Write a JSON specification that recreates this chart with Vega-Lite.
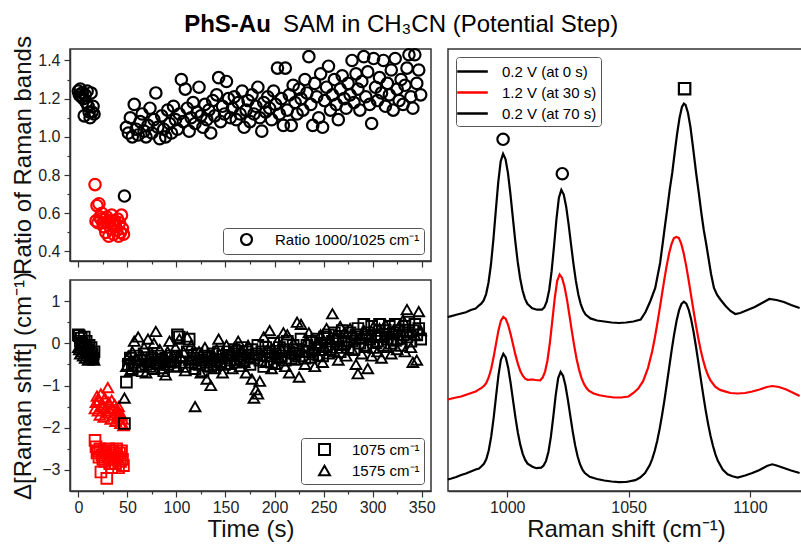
{
  "$schema": "https://vega.github.io/schema/vega-lite/v6.json",
  "padding": {"left": 10, "top": 12, "right": 0, "bottom": 0},
  "title": {
    "text": "PhS-Au",
    "anchor": "middle",
    "font": "Liberation Sans",
    "fontSize": 24,
    "fontWeight": "bold",
    "color": "black",
    "dx": -180,
    "offset": -24
  },
  "config": {
    "font": "Liberation Sans",
    "view": {"stroke": "#333333", "strokeWidth": 1.5},
    "axis": {
      "domainColor": "#333333", "domainWidth": 1.5,
      "tickColor": "#333333", "tickWidth": 1.2,
      "labelFontSize": 16, "labelColor": "#222222", "labelPadding": 4,
      "titleFontSize": 24, "titleFontWeight": "normal", "titleColor": "#111111",
      "grid": false, "labelOverlap": false, "labelFlush": false
    }
  },
  "datasets": {
    "ts": [
      {"t":0,"r":1.24,"s":0.20,"a":-0.10,"p":"b"},
      {"t":1,"r":1.22,"s":0.18,"a":-0.15,"p":"b"},
      {"t":2,"r":1.25,"s":0.05,"a":-0.25,"p":"b"},
      {"t":3,"r":1.21,"s":0.12,"a":-0.05,"p":"b"},
      {"t":4,"r":1.23,"s":0.00,"a":-0.20,"p":"b"},
      {"t":5,"r":1.20,"s":-0.05,"a":-0.30,"p":"b"},
      {"t":6,"r":1.11,"s":0.15,"a":-0.15,"p":"b"},
      {"t":7,"r":1.22,"s":-0.10,"a":-0.35,"p":"b"},
      {"t":8,"r":1.18,"s":0.05,"a":-0.10,"p":"b"},
      {"t":9,"r":1.24,"s":-0.20,"a":-0.25,"p":"b"},
      {"t":10,"r":1.16,"s":-0.15,"a":-0.40,"p":"b"},
      {"t":11,"r":1.13,"s":-0.05,"a":-0.20,"p":"b"},
      {"t":12,"r":1.10,"s":-0.30,"a":-0.30,"p":"b"},
      {"t":13,"r":1.23,"s":-0.10,"a":-0.15,"p":"b"},
      {"t":14,"r":1.13,"s":-0.25,"a":-0.35,"p":"b"},
      {"t":15,"r":1.16,"s":-0.35,"a":-0.25,"p":"b"},
      {"t":16,"r":1.12,"s":-0.20,"a":-0.40,"p":"b"},
      {"t":17,"r":0.75,"s":-2.30,"a":-1.55,"p":"r"},
      {"t":18,"r":0.56,"s":-2.45,"a":-1.40,"p":"r"},
      {"t":19,"r":0.64,"s":-2.60,"a":-1.25,"p":"r"},
      {"t":20,"r":0.55,"s":-2.55,"a":-1.60,"p":"r"},
      {"t":21,"r":0.65,"s":-2.70,"a":-1.35,"p":"r"},
      {"t":22,"r":0.58,"s":-2.50,"a":-1.70,"p":"r"},
      {"t":23,"r":0.57,"s":-3.05,"a":-1.20,"p":"r"},
      {"t":24,"r":0.60,"s":-2.65,"a":-1.50,"p":"r"},
      {"t":25,"r":0.55,"s":-2.75,"a":-1.45,"p":"r"},
      {"t":26,"r":0.53,"s":-2.55,"a":-1.75,"p":"r"},
      {"t":27,"r":0.57,"s":-2.80,"a":-1.30,"p":"r"},
      {"t":28,"r":0.50,"s":-2.60,"a":-1.55,"p":"r"},
      {"t":29,"r":0.58,"s":-3.20,"a":-1.65,"p":"r"},
      {"t":30,"r":0.55,"s":-2.70,"a":-1.05,"p":"r"},
      {"t":31,"r":0.48,"s":-2.50,"a":-1.40,"p":"r"},
      {"t":32,"r":0.56,"s":-2.85,"a":-1.60,"p":"r"},
      {"t":33,"r":0.52,"s":-2.65,"a":-1.80,"p":"r"},
      {"t":34,"r":0.59,"s":-2.95,"a":-1.35,"p":"r"},
      {"t":35,"r":0.54,"s":-2.55,"a":-1.55,"p":"r"},
      {"t":36,"r":0.49,"s":-2.75,"a":-1.70,"p":"r"},
      {"t":37,"r":0.56,"s":-2.60,"a":-1.45,"p":"r"},
      {"t":38,"r":0.53,"s":-2.85,"a":-1.85,"p":"r"},
      {"t":39,"r":0.51,"s":-2.50,"a":-1.60,"p":"r"},
      {"t":40,"r":0.57,"s":-2.70,"a":-1.75,"p":"r"},
      {"t":41,"r":0.48,"s":-2.95,"a":-1.50,"p":"r"},
      {"t":42,"r":0.55,"s":-2.60,"a":-1.65,"p":"r"},
      {"t":43,"r":0.50,"s":-2.80,"a":-1.90,"p":"r"},
      {"t":44,"r":0.59,"s":-2.55,"a":-1.70,"p":"r"},
      {"t":45,"r":0.52,"s":-2.75,"a":-1.80,"p":"r"},
      {"t":46,"r":0.49,"s":-2.90,"a":-1.95,"p":"r"},
      {"t":47,"r":0.69,"s":-1.90,"a":-1.30,"p":"b"},
      {"t":49,"r":1.05,"s":-0.92,"a":-0.55,"p":"b"},
      {"t":51,"r":1.02,"s":-0.50,"a":-0.30,"p":"b"},
      {"t":53,"r":1.10,"s":-0.35,"a":-0.65,"p":"b"},
      {"t":55,"r":1.00,"s":-0.60,"a":-0.20,"p":"b"},
      {"t":57,"r":1.17,"s":-0.45,"a":0.05,"p":"b"},
      {"t":59,"r":1.04,"s":-0.30,"a":-0.40,"p":"b"},
      {"t":61,"r":1.01,"s":-0.55,"a":0.15,"p":"b"},
      {"t":63,"r":1.08,"s":-0.40,"a":-0.55,"p":"b"},
      {"t":65,"r":1.12,"s":-0.65,"a":-0.30,"p":"b"},
      {"t":67,"r":1.03,"s":-0.25,"a":-0.10,"p":"b"},
      {"t":69,"r":1.00,"s":-0.50,"a":-0.70,"p":"b"},
      {"t":71,"r":1.06,"s":-0.40,"a":0.10,"p":"b"},
      {"t":73,"r":1.15,"s":-0.55,"a":-0.45,"p":"b"},
      {"t":75,"r":1.02,"s":-0.35,"a":-0.25,"p":"b"},
      {"t":77,"r":1.09,"s":-0.60,"a":0.00,"p":"b"},
      {"t":79,"r":1.23,"s":-0.45,"a":0.28,"p":"b"},
      {"t":81,"r":1.05,"s":-0.30,"a":-0.50,"p":"b"},
      {"t":83,"r":0.99,"s":-0.50,"a":-0.15,"p":"b"},
      {"t":85,"r":1.11,"s":-0.40,"a":-0.60,"p":"b"},
      {"t":87,"r":1.04,"s":-0.65,"a":-0.35,"p":"b"},
      {"t":89,"r":1.00,"s":-0.35,"a":-0.75,"p":"b"},
      {"t":91,"r":1.14,"s":-0.50,"a":-0.20,"p":"b"},
      {"t":93,"r":1.07,"s":-0.45,"a":0.05,"p":"b"},
      {"t":95,"r":1.02,"s":-0.30,"a":-0.45,"p":"b"},
      {"t":97,"r":1.16,"s":-0.55,"a":-0.30,"p":"b"},
      {"t":99,"r":1.09,"s":-0.40,"a":-0.10,"p":"b"},
      {"t":101,"r":1.04,"s":0.20,"a":-0.55,"p":"b"},
      {"t":103,"r":1.12,"s":0.15,"a":0.10,"p":"b"},
      {"t":105,"r":1.30,"s":-0.45,"a":-0.35,"p":"b"},
      {"t":107,"r":1.08,"s":-0.30,"a":-0.20,"p":"b"},
      {"t":109,"r":1.25,"s":-0.55,"a":-0.65,"p":"b"},
      {"t":111,"r":1.15,"s":-0.20,"a":0.15,"p":"b"},
      {"t":113,"r":1.03,"s":0.10,"a":-0.40,"p":"b"},
      {"t":115,"r":1.10,"s":-0.45,"a":-0.05,"p":"b"},
      {"t":117,"r":1.18,"s":-0.35,"a":-0.30,"p":"b"},
      {"t":119,"r":1.07,"s":-0.60,"a":-1.50,"p":"b"},
      {"t":121,"r":1.13,"s":-0.25,"a":-0.50,"p":"b"},
      {"t":123,"r":1.26,"s":-0.50,"a":-0.20,"p":"b"},
      {"t":125,"r":1.11,"s":-0.40,"a":-0.70,"p":"b"},
      {"t":127,"r":1.05,"s":-0.65,"a":-0.35,"p":"b"},
      {"t":129,"r":1.17,"s":-0.30,"a":-0.10,"p":"b"},
      {"t":131,"r":1.09,"s":-0.45,"a":-0.85,"p":"b"},
      {"t":133,"r":1.14,"s":-0.35,"a":-0.55,"p":"b"},
      {"t":135,"r":1.02,"s":-0.55,"a":-1.00,"p":"b"},
      {"t":137,"r":1.19,"s":-0.25,"a":-0.25,"p":"b"},
      {"t":139,"r":1.11,"s":-0.50,"a":-0.60,"p":"b"},
      {"t":141,"r":1.22,"s":-0.40,"a":-0.15,"p":"b"},
      {"t":143,"r":1.31,"s":-0.20,"a":0.10,"p":"b"},
      {"t":145,"r":1.08,"s":-0.45,"a":-0.45,"p":"b"},
      {"t":147,"r":1.16,"s":-0.30,"a":-0.70,"p":"b"},
      {"t":149,"r":1.12,"s":-0.50,"a":-0.30,"p":"b"},
      {"t":151,"r":1.29,"s":-0.35,"a":-0.05,"p":"b"},
      {"t":153,"r":1.20,"s":-0.20,"a":-0.50,"p":"b"},
      {"t":155,"r":1.10,"s":-0.40,"a":-0.25,"p":"b"},
      {"t":157,"r":1.15,"s":-0.30,"a":-0.60,"p":"b"},
      {"t":159,"r":1.21,"s":-0.15,"a":-0.10,"p":"b"},
      {"t":161,"r":1.09,"s":-0.45,"a":-0.40,"p":"b"},
      {"t":163,"r":1.18,"s":-0.25,"a":0.05,"p":"b"},
      {"t":165,"r":1.12,"s":-0.35,"a":-0.55,"p":"b"},
      {"t":167,"r":1.24,"s":-0.10,"a":-0.20,"p":"b"},
      {"t":169,"r":1.05,"s":-0.40,"a":-0.45,"p":"b"},
      {"t":171,"r":1.14,"s":-0.20,"a":-0.70,"p":"b"},
      {"t":173,"r":1.19,"s":-0.30,"a":-0.05,"p":"b"},
      {"t":175,"r":1.08,"s":-0.50,"a":-0.35,"p":"b"},
      {"t":177,"r":1.22,"s":-0.15,"a":-0.85,"p":"b"},
      {"t":179,"r":1.12,"s":-0.35,"a":-1.30,"p":"b"},
      {"t":181,"r":1.16,"s":-0.25,"a":-1.10,"p":"b"},
      {"t":183,"r":1.26,"s":-0.05,"a":-1.20,"p":"b"},
      {"t":185,"r":1.10,"s":-0.40,"a":-0.90,"p":"b"},
      {"t":187,"r":1.03,"s":-0.20,"a":-0.30,"p":"b"},
      {"t":189,"r":1.18,"s":-0.55,"a":0.15,"p":"b"},
      {"t":191,"r":1.13,"s":-0.10,"a":-0.45,"p":"b"},
      {"t":193,"r":1.21,"s":-0.30,"a":-0.15,"p":"b"},
      {"t":195,"r":1.15,"s":-0.20,"a":0.30,"p":"b"},
      {"t":197,"r":1.09,"s":-0.45,"a":-0.60,"p":"b"},
      {"t":199,"r":1.24,"s":0.00,"a":-0.25,"p":"b"},
      {"t":201,"r":1.17,"s":-0.25,"a":-0.50,"p":"b"},
      {"t":203,"r":1.36,"s":-0.35,"a":0.05,"p":"b"},
      {"t":205,"r":1.12,"s":-0.10,"a":-0.35,"p":"b"},
      {"t":207,"r":1.20,"s":-0.30,"a":-0.15,"p":"b"},
      {"t":209,"r":1.06,"s":-0.15,"a":0.25,"p":"b"},
      {"t":211,"r":1.36,"s":-0.40,"a":-0.55,"p":"b"},
      {"t":213,"r":1.14,"s":0.05,"a":0.20,"p":"b"},
      {"t":215,"r":1.22,"s":-0.20,"a":-0.70,"p":"b"},
      {"t":217,"r":1.06,"s":-0.35,"a":-0.25,"p":"b"},
      {"t":219,"r":1.27,"s":-0.05,"a":0.00,"p":"b"},
      {"t":221,"r":1.18,"s":-0.25,"a":-0.40,"p":"b"},
      {"t":223,"r":1.12,"s":-0.15,"a":0.50,"p":"b"},
      {"t":225,"r":1.25,"s":-0.30,"a":-0.80,"p":"b"},
      {"t":227,"r":1.20,"s":0.10,"a":0.45,"p":"b"},
      {"t":229,"r":1.14,"s":-0.20,"a":-0.20,"p":"b"},
      {"t":231,"r":1.30,"s":-0.35,"a":-0.50,"p":"b"},
      {"t":233,"r":1.23,"s":-0.05,"a":0.05,"p":"b"},
      {"t":235,"r":1.42,"s":-0.20,"a":0.25,"p":"b"},
      {"t":237,"r":1.17,"s":0.05,"a":-0.35,"p":"b"},
      {"t":239,"r":1.06,"s":-0.25,"a":-0.15,"p":"b"},
      {"t":241,"r":1.28,"s":-0.10,"a":-0.55,"p":"b"},
      {"t":243,"r":1.21,"s":0.10,"a":0.00,"p":"b"},
      {"t":245,"r":1.10,"s":-0.15,"a":-0.30,"p":"b"},
      {"t":247,"r":1.33,"s":0.00,"a":0.20,"p":"b"},
      {"t":249,"r":1.05,"s":-0.30,"a":-0.45,"p":"b"},
      {"t":251,"r":1.19,"s":0.15,"a":-0.10,"p":"b"},
      {"t":253,"r":1.26,"s":-0.05,"a":0.35,"p":"b"},
      {"t":255,"r":1.37,"s":0.20,"a":-0.25,"p":"b"},
      {"t":257,"r":1.14,"s":-0.15,"a":0.10,"p":"b"},
      {"t":259,"r":1.22,"s":0.05,"a":0.70,"p":"b"},
      {"t":261,"r":1.30,"s":0.25,"a":-0.20,"p":"b"},
      {"t":263,"r":1.17,"s":-0.10,"a":0.15,"p":"b"},
      {"t":265,"r":1.09,"s":0.10,"a":-0.40,"p":"b"},
      {"t":267,"r":1.25,"s":-0.20,"a":0.40,"p":"b"},
      {"t":269,"r":1.32,"s":0.30,"a":-0.05,"p":"b"},
      {"t":271,"r":1.20,"s":0.00,"a":0.25,"p":"b"},
      {"t":273,"r":1.15,"s":0.15,"a":-0.30,"p":"b"},
      {"t":275,"r":1.28,"s":-0.10,"a":0.05,"p":"b"},
      {"t":277,"r":1.22,"s":0.25,"a":0.35,"p":"b"},
      {"t":279,"r":1.40,"s":0.05,"a":-0.15,"p":"b"},
      {"t":281,"r":1.18,"s":-0.15,"a":0.20,"p":"b"},
      {"t":283,"r":1.33,"s":0.20,"a":-0.50,"p":"b"},
      {"t":285,"r":1.25,"s":0.35,"a":-0.72,"p":"b"},
      {"t":287,"r":1.14,"s":0.00,"a":0.10,"p":"b"},
      {"t":289,"r":1.29,"s":0.15,"a":-0.25,"p":"b"},
      {"t":291,"r":1.42,"s":0.45,"a":0.30,"p":"b"},
      {"t":293,"r":1.21,"s":-0.05,"a":-0.10,"p":"b"},
      {"t":295,"r":1.34,"s":0.25,"a":-0.60,"p":"b"},
      {"t":297,"r":1.17,"s":0.10,"a":0.15,"p":"b"},
      {"t":299,"r":1.07,"s":0.40,"a":-0.30,"p":"b"},
      {"t":301,"r":1.41,"s":-0.10,"a":0.40,"p":"b"},
      {"t":303,"r":1.26,"s":0.20,"a":0.00,"p":"b"},
      {"t":305,"r":1.19,"s":0.05,"a":-0.20,"p":"b"},
      {"t":307,"r":1.31,"s":0.45,"a":0.35,"p":"b"},
      {"t":309,"r":1.23,"s":0.15,"a":-0.35,"p":"b"},
      {"t":311,"r":1.40,"s":-0.05,"a":0.15,"p":"b"},
      {"t":313,"r":1.16,"s":0.30,"a":0.45,"p":"b"},
      {"t":315,"r":1.28,"s":0.10,"a":-0.10,"p":"b"},
      {"t":317,"r":1.22,"s":0.40,"a":0.20,"p":"b"},
      {"t":319,"r":1.35,"s":0.00,"a":-0.25,"p":"b"},
      {"t":321,"r":1.14,"s":0.25,"a":0.30,"p":"b"},
      {"t":323,"r":1.41,"s":0.45,"a":0.05,"p":"b"},
      {"t":325,"r":1.25,"s":0.10,"a":-0.15,"p":"b"},
      {"t":327,"r":1.19,"s":0.30,"a":0.40,"p":"b"},
      {"t":329,"r":1.30,"s":-0.05,"a":0.10,"p":"b"},
      {"t":331,"r":1.17,"s":0.20,"a":0.55,"p":"b"},
      {"t":333,"r":1.27,"s":0.40,"a":-0.20,"p":"b"},
      {"t":335,"r":1.36,"s":0.15,"a":0.80,"p":"b"},
      {"t":337,"r":1.43,"s":0.50,"a":0.25,"p":"b"},
      {"t":339,"r":1.21,"s":0.05,"a":-0.10,"p":"b"},
      {"t":341,"r":1.15,"s":0.30,"a":-0.45,"p":"b"},
      {"t":343,"r":1.43,"s":0.45,"a":0.20,"p":"b"},
      {"t":345,"r":1.28,"s":0.20,"a":-0.40,"p":"b"},
      {"t":347,"r":1.35,"s":0.35,"a":0.75,"p":"b"},
      {"t":349,"r":1.22,"s":0.10,"a":0.30,"p":"b"}
    ],
    "spec": [
      {"k":"0.2 V (at 0 s)","x":975.5,"v":174.0},
      {"k":"0.2 V (at 0 s)","x":977,"v":174.9},
      {"k":"0.2 V (at 0 s)","x":979,"v":176.2},
      {"k":"0.2 V (at 0 s)","x":981,"v":177.5},
      {"k":"0.2 V (at 0 s)","x":983,"v":178.7},
      {"k":"0.2 V (at 0 s)","x":985,"v":181.0},
      {"k":"0.2 V (at 0 s)","x":987,"v":182.5},
      {"k":"0.2 V (at 0 s)","x":988.3,"v":185.5},
      {"k":"0.2 V (at 0 s)","x":989.3,"v":187.3},
      {"k":"0.2 V (at 0 s)","x":990.3,"v":190.5},
      {"k":"0.2 V (at 0 s)","x":991.3,"v":196.9},
      {"k":"0.2 V (at 0 s)","x":992.3,"v":208.5},
      {"k":"0.2 V (at 0 s)","x":993.3,"v":226.5},
      {"k":"0.2 V (at 0 s)","x":994.3,"v":251.3},
      {"k":"0.2 V (at 0 s)","x":995.3,"v":280.3},
      {"k":"0.2 V (at 0 s)","x":996.3,"v":308.6},
      {"k":"0.2 V (at 0 s)","x":997.3,"v":329.5},
      {"k":"0.2 V (at 0 s)","x":998.3,"v":337.2},
      {"k":"0.2 V (at 0 s)","x":999.3,"v":332.0},
      {"k":"0.2 V (at 0 s)","x":1000.3,"v":318.2},
      {"k":"0.2 V (at 0 s)","x":1001.3,"v":297.5},
      {"k":"0.2 V (at 0 s)","x":1002.3,"v":273.8},
      {"k":"0.2 V (at 0 s)","x":1003.3,"v":250.3},
      {"k":"0.2 V (at 0 s)","x":1004.3,"v":229.6},
      {"k":"0.2 V (at 0 s)","x":1005.3,"v":213.0},
      {"k":"0.2 V (at 0 s)","x":1006.3,"v":200.7},
      {"k":"0.2 V (at 0 s)","x":1007.3,"v":192.4},
      {"k":"0.2 V (at 0 s)","x":1008.3,"v":187.2},
      {"k":"0.2 V (at 0 s)","x":1010.3,"v":182.8},
      {"k":"0.2 V (at 0 s)","x":1012.3,"v":181.3},
      {"k":"0.2 V (at 0 s)","x":1014.3,"v":181.3},
      {"k":"0.2 V (at 0 s)","x":1015.3,"v":183.6},
      {"k":"0.2 V (at 0 s)","x":1016.3,"v":189.5},
      {"k":"0.2 V (at 0 s)","x":1017.3,"v":201.0},
      {"k":"0.2 V (at 0 s)","x":1018.3,"v":219.8},
      {"k":"0.2 V (at 0 s)","x":1019.3,"v":245.0},
      {"k":"0.2 V (at 0 s)","x":1020.3,"v":272.2},
      {"k":"0.2 V (at 0 s)","x":1021.3,"v":293.3},
      {"k":"0.2 V (at 0 s)","x":1022.3,"v":301.1},
      {"k":"0.2 V (at 0 s)","x":1023.3,"v":296.5},
      {"k":"0.2 V (at 0 s)","x":1024.3,"v":284.3},
      {"k":"0.2 V (at 0 s)","x":1025.3,"v":266.7},
      {"k":"0.2 V (at 0 s)","x":1026.3,"v":246.7},
      {"k":"0.2 V (at 0 s)","x":1027.3,"v":227.1},
      {"k":"0.2 V (at 0 s)","x":1028.3,"v":210.1},
      {"k":"0.2 V (at 0 s)","x":1029.3,"v":196.6},
      {"k":"0.2 V (at 0 s)","x":1030.3,"v":186.9},
      {"k":"0.2 V (at 0 s)","x":1031.3,"v":180.5},
      {"k":"0.2 V (at 0 s)","x":1032.3,"v":176.5},
      {"k":"0.2 V (at 0 s)","x":1034.3,"v":172.6},
      {"k":"0.2 V (at 0 s)","x":1037,"v":170.5},
      {"k":"0.2 V (at 0 s)","x":1040,"v":169.5},
      {"k":"0.2 V (at 0 s)","x":1043,"v":168.5},
      {"k":"0.2 V (at 0 s)","x":1046,"v":168.0},
      {"k":"0.2 V (at 0 s)","x":1049,"v":168.5},
      {"k":"0.2 V (at 0 s)","x":1052,"v":169.5},
      {"k":"0.2 V (at 0 s)","x":1055,"v":171.5},
      {"k":"0.2 V (at 0 s)","x":1057,"v":179.0},
      {"k":"0.2 V (at 0 s)","x":1059,"v":190.0},
      {"k":"0.2 V (at 0 s)","x":1061,"v":203.0},
      {"k":"0.2 V (at 0 s)","x":1063,"v":228.0},
      {"k":"0.2 V (at 0 s)","x":1064.2,"v":250.0},
      {"k":"0.2 V (at 0 s)","x":1065,"v":265.0},
      {"k":"0.2 V (at 0 s)","x":1066,"v":283.0},
      {"k":"0.2 V (at 0 s)","x":1067,"v":302.0},
      {"k":"0.2 V (at 0 s)","x":1068,"v":318.0},
      {"k":"0.2 V (at 0 s)","x":1069,"v":338.0},
      {"k":"0.2 V (at 0 s)","x":1070,"v":357.0},
      {"k":"0.2 V (at 0 s)","x":1071,"v":373.0},
      {"k":"0.2 V (at 0 s)","x":1072,"v":384.0},
      {"k":"0.2 V (at 0 s)","x":1072.8,"v":387.3},
      {"k":"0.2 V (at 0 s)","x":1073.5,"v":386.0},
      {"k":"0.2 V (at 0 s)","x":1074.5,"v":378.0},
      {"k":"0.2 V (at 0 s)","x":1075.5,"v":364.0},
      {"k":"0.2 V (at 0 s)","x":1076.5,"v":345.0},
      {"k":"0.2 V (at 0 s)","x":1077.9,"v":317.0},
      {"k":"0.2 V (at 0 s)","x":1079,"v":297.0},
      {"k":"0.2 V (at 0 s)","x":1080,"v":278.0},
      {"k":"0.2 V (at 0 s)","x":1081,"v":261.0},
      {"k":"0.2 V (at 0 s)","x":1082,"v":247.0},
      {"k":"0.2 V (at 0 s)","x":1083,"v":232.0},
      {"k":"0.2 V (at 0 s)","x":1084,"v":217.0},
      {"k":"0.2 V (at 0 s)","x":1085.2,"v":203.0},
      {"k":"0.2 V (at 0 s)","x":1086.5,"v":196.0},
      {"k":"0.2 V (at 0 s)","x":1088,"v":191.0},
      {"k":"0.2 V (at 0 s)","x":1090,"v":185.0},
      {"k":"0.2 V (at 0 s)","x":1092,"v":180.0},
      {"k":"0.2 V (at 0 s)","x":1094,"v":177.0},
      {"k":"0.2 V (at 0 s)","x":1096,"v":178.0},
      {"k":"0.2 V (at 0 s)","x":1099,"v":181.0},
      {"k":"0.2 V (at 0 s)","x":1102,"v":184.0},
      {"k":"0.2 V (at 0 s)","x":1105,"v":188.0},
      {"k":"0.2 V (at 0 s)","x":1108,"v":192.0},
      {"k":"0.2 V (at 0 s)","x":1111,"v":191.0},
      {"k":"0.2 V (at 0 s)","x":1114,"v":189.0},
      {"k":"0.2 V (at 0 s)","x":1117,"v":186.0},
      {"k":"0.2 V (at 0 s)","x":1120.5,"v":183.0},
      {"k":"1.2 V (at 30 s)","x":975.5,"v":91.5},
      {"k":"1.2 V (at 30 s)","x":978,"v":93.0},
      {"k":"1.2 V (at 30 s)","x":981,"v":94.5},
      {"k":"1.2 V (at 30 s)","x":984,"v":97.0},
      {"k":"1.2 V (at 30 s)","x":987,"v":99.5},
      {"k":"1.2 V (at 30 s)","x":989.4,"v":103.1},
      {"k":"1.2 V (at 30 s)","x":990.4,"v":105.0},
      {"k":"1.2 V (at 30 s)","x":991.4,"v":108.1},
      {"k":"1.2 V (at 30 s)","x":992.4,"v":113.8},
      {"k":"1.2 V (at 30 s)","x":993.4,"v":122.3},
      {"k":"1.2 V (at 30 s)","x":994.4,"v":133.9},
      {"k":"1.2 V (at 30 s)","x":995.4,"v":147.4},
      {"k":"1.2 V (at 30 s)","x":996.4,"v":160.6},
      {"k":"1.2 V (at 30 s)","x":997.4,"v":170.4},
      {"k":"1.2 V (at 30 s)","x":998.4,"v":174.2},
      {"k":"1.2 V (at 30 s)","x":999.4,"v":172.1},
      {"k":"1.2 V (at 30 s)","x":1000.4,"v":166.0},
      {"k":"1.2 V (at 30 s)","x":1001.4,"v":156.9},
      {"k":"1.2 V (at 30 s)","x":1002.4,"v":146.4},
      {"k":"1.2 V (at 30 s)","x":1003.4,"v":136.1},
      {"k":"1.2 V (at 30 s)","x":1004.4,"v":127.1},
      {"k":"1.2 V (at 30 s)","x":1005.4,"v":119.9},
      {"k":"1.2 V (at 30 s)","x":1006.4,"v":115.3},
      {"k":"1.2 V (at 30 s)","x":1007.4,"v":112.3},
      {"k":"1.2 V (at 30 s)","x":1008.4,"v":111.2},
      {"k":"1.2 V (at 30 s)","x":1009.4,"v":111.3},
      {"k":"1.2 V (at 30 s)","x":1010.6,"v":111.5},
      {"k":"1.2 V (at 30 s)","x":1011.6,"v":111.0},
      {"k":"1.2 V (at 30 s)","x":1013.6,"v":110.7},
      {"k":"1.2 V (at 30 s)","x":1014.6,"v":113.4},
      {"k":"1.2 V (at 30 s)","x":1015.6,"v":119.4},
      {"k":"1.2 V (at 30 s)","x":1016.6,"v":130.8},
      {"k":"1.2 V (at 30 s)","x":1017.6,"v":148.5},
      {"k":"1.2 V (at 30 s)","x":1018.6,"v":170.6},
      {"k":"1.2 V (at 30 s)","x":1019.6,"v":193.0},
      {"k":"1.2 V (at 30 s)","x":1020.6,"v":210.2},
      {"k":"1.2 V (at 30 s)","x":1021.6,"v":216.4},
      {"k":"1.2 V (at 30 s)","x":1022.6,"v":213.1},
      {"k":"1.2 V (at 30 s)","x":1023.6,"v":204.5},
      {"k":"1.2 V (at 30 s)","x":1024.6,"v":191.8},
      {"k":"1.2 V (at 30 s)","x":1025.6,"v":176.5},
      {"k":"1.2 V (at 30 s)","x":1026.6,"v":160.4},
      {"k":"1.2 V (at 30 s)","x":1027.6,"v":145.3},
      {"k":"1.2 V (at 30 s)","x":1028.6,"v":132.0},
      {"k":"1.2 V (at 30 s)","x":1029.6,"v":121.4},
      {"k":"1.2 V (at 30 s)","x":1030.6,"v":113.2},
      {"k":"1.2 V (at 30 s)","x":1031.6,"v":107.2},
      {"k":"1.2 V (at 30 s)","x":1032.6,"v":103.2},
      {"k":"1.2 V (at 30 s)","x":1033.6,"v":100.4},
      {"k":"1.2 V (at 30 s)","x":1035.6,"v":97.5},
      {"k":"1.2 V (at 30 s)","x":1038,"v":95.7},
      {"k":"1.2 V (at 30 s)","x":1041,"v":94.5},
      {"k":"1.2 V (at 30 s)","x":1044,"v":93.5},
      {"k":"1.2 V (at 30 s)","x":1047,"v":93.5},
      {"k":"1.2 V (at 30 s)","x":1050,"v":94.5},
      {"k":"1.2 V (at 30 s)","x":1052,"v":98.0},
      {"k":"1.2 V (at 30 s)","x":1054,"v":102.4},
      {"k":"1.2 V (at 30 s)","x":1056,"v":109.8},
      {"k":"1.2 V (at 30 s)","x":1058,"v":122.9},
      {"k":"1.2 V (at 30 s)","x":1059.7,"v":139.3},
      {"k":"1.2 V (at 30 s)","x":1060.7,"v":151.5},
      {"k":"1.2 V (at 30 s)","x":1061.7,"v":165.2},
      {"k":"1.2 V (at 30 s)","x":1062.7,"v":180.1},
      {"k":"1.2 V (at 30 s)","x":1063.7,"v":195.5},
      {"k":"1.2 V (at 30 s)","x":1064.7,"v":210.8},
      {"k":"1.2 V (at 30 s)","x":1065.7,"v":225.1},
      {"k":"1.2 V (at 30 s)","x":1066.7,"v":237.4},
      {"k":"1.2 V (at 30 s)","x":1067.7,"v":246.9},
      {"k":"1.2 V (at 30 s)","x":1068.7,"v":252.9},
      {"k":"1.2 V (at 30 s)","x":1069.7,"v":254.0},
      {"k":"1.2 V (at 30 s)","x":1070.7,"v":253.1},
      {"k":"1.2 V (at 30 s)","x":1071.7,"v":247.3},
      {"k":"1.2 V (at 30 s)","x":1072.7,"v":238.0},
      {"k":"1.2 V (at 30 s)","x":1073.7,"v":225.9},
      {"k":"1.2 V (at 30 s)","x":1074.7,"v":211.8},
      {"k":"1.2 V (at 30 s)","x":1075.7,"v":196.7},
      {"k":"1.2 V (at 30 s)","x":1076.7,"v":181.5},
      {"k":"1.2 V (at 30 s)","x":1077.7,"v":166.8},
      {"k":"1.2 V (at 30 s)","x":1078.7,"v":153.3},
      {"k":"1.2 V (at 30 s)","x":1079.7,"v":141.3},
      {"k":"1.2 V (at 30 s)","x":1080.7,"v":131.1},
      {"k":"1.2 V (at 30 s)","x":1081.7,"v":122.7},
      {"k":"1.2 V (at 30 s)","x":1082.7,"v":116.0},
      {"k":"1.2 V (at 30 s)","x":1083.7,"v":110.9},
      {"k":"1.2 V (at 30 s)","x":1085.7,"v":104.3},
      {"k":"1.2 V (at 30 s)","x":1087.7,"v":101.1},
      {"k":"1.2 V (at 30 s)","x":1089.7,"v":99.6},
      {"k":"1.2 V (at 30 s)","x":1092,"v":98.0},
      {"k":"1.2 V (at 30 s)","x":1095,"v":97.5},
      {"k":"1.2 V (at 30 s)","x":1098,"v":98.0},
      {"k":"1.2 V (at 30 s)","x":1101,"v":99.5},
      {"k":"1.2 V (at 30 s)","x":1104,"v":101.5},
      {"k":"1.2 V (at 30 s)","x":1107,"v":104.0},
      {"k":"1.2 V (at 30 s)","x":1109.2,"v":105.0},
      {"k":"1.2 V (at 30 s)","x":1112,"v":104.0},
      {"k":"1.2 V (at 30 s)","x":1115,"v":101.5},
      {"k":"1.2 V (at 30 s)","x":1118,"v":98.0},
      {"k":"1.2 V (at 30 s)","x":1120.5,"v":95.0},
      {"k":"0.2 V (at 70 s)","x":975.5,"v":11.5},
      {"k":"0.2 V (at 70 s)","x":977,"v":12.5},
      {"k":"0.2 V (at 70 s)","x":979,"v":14.0},
      {"k":"0.2 V (at 70 s)","x":981,"v":16.0},
      {"k":"0.2 V (at 70 s)","x":983,"v":17.5},
      {"k":"0.2 V (at 70 s)","x":985,"v":19.5},
      {"k":"0.2 V (at 70 s)","x":987,"v":21.5},
      {"k":"0.2 V (at 70 s)","x":988.4,"v":22.5},
      {"k":"0.2 V (at 70 s)","x":989.4,"v":24.7},
      {"k":"0.2 V (at 70 s)","x":990.4,"v":27.2},
      {"k":"0.2 V (at 70 s)","x":991.4,"v":32.0},
      {"k":"0.2 V (at 70 s)","x":992.4,"v":40.7},
      {"k":"0.2 V (at 70 s)","x":993.4,"v":54.3},
      {"k":"0.2 V (at 70 s)","x":994.4,"v":72.9},
      {"k":"0.2 V (at 70 s)","x":995.4,"v":94.6},
      {"k":"0.2 V (at 70 s)","x":996.4,"v":115.8},
      {"k":"0.2 V (at 70 s)","x":997.4,"v":131.3},
      {"k":"0.2 V (at 70 s)","x":998.4,"v":137.2},
      {"k":"0.2 V (at 70 s)","x":999.4,"v":133.5},
      {"k":"0.2 V (at 70 s)","x":1000.4,"v":123.3},
      {"k":"0.2 V (at 70 s)","x":1001.4,"v":108.0},
      {"k":"0.2 V (at 70 s)","x":1002.4,"v":90.7},
      {"k":"0.2 V (at 70 s)","x":1003.4,"v":73.4},
      {"k":"0.2 V (at 70 s)","x":1004.4,"v":58.3},
      {"k":"0.2 V (at 70 s)","x":1005.4,"v":46.1},
      {"k":"0.2 V (at 70 s)","x":1006.4,"v":37.2},
      {"k":"0.2 V (at 70 s)","x":1007.4,"v":31.1},
      {"k":"0.2 V (at 70 s)","x":1008.4,"v":27.3},
      {"k":"0.2 V (at 70 s)","x":1010.4,"v":24.3},
      {"k":"0.2 V (at 70 s)","x":1012,"v":22.8},
      {"k":"0.2 V (at 70 s)","x":1014,"v":23.4},
      {"k":"0.2 V (at 70 s)","x":1015,"v":25.4},
      {"k":"0.2 V (at 70 s)","x":1016,"v":30.1},
      {"k":"0.2 V (at 70 s)","x":1017,"v":39.3},
      {"k":"0.2 V (at 70 s)","x":1018,"v":54.3},
      {"k":"0.2 V (at 70 s)","x":1019,"v":74.5},
      {"k":"0.2 V (at 70 s)","x":1020,"v":96.1},
      {"k":"0.2 V (at 70 s)","x":1021,"v":113.0},
      {"k":"0.2 V (at 70 s)","x":1022,"v":119.2},
      {"k":"0.2 V (at 70 s)","x":1023,"v":115.4},
      {"k":"0.2 V (at 70 s)","x":1024,"v":105.5},
      {"k":"0.2 V (at 70 s)","x":1025,"v":91.3},
      {"k":"0.2 V (at 70 s)","x":1026,"v":75.2},
      {"k":"0.2 V (at 70 s)","x":1027,"v":59.4},
      {"k":"0.2 V (at 70 s)","x":1028,"v":45.6},
      {"k":"0.2 V (at 70 s)","x":1029,"v":34.7},
      {"k":"0.2 V (at 70 s)","x":1030,"v":26.8},
      {"k":"0.2 V (at 70 s)","x":1031,"v":21.4},
      {"k":"0.2 V (at 70 s)","x":1032,"v":17.9},
      {"k":"0.2 V (at 70 s)","x":1034,"v":14.2},
      {"k":"0.2 V (at 70 s)","x":1037,"v":12.0},
      {"k":"0.2 V (at 70 s)","x":1040,"v":10.5},
      {"k":"0.2 V (at 70 s)","x":1043,"v":9.5},
      {"k":"0.2 V (at 70 s)","x":1046,"v":8.8},
      {"k":"0.2 V (at 70 s)","x":1049,"v":9.0},
      {"k":"0.2 V (at 70 s)","x":1052.8,"v":10.9},
      {"k":"0.2 V (at 70 s)","x":1054.8,"v":13.5},
      {"k":"0.2 V (at 70 s)","x":1056.8,"v":18.0},
      {"k":"0.2 V (at 70 s)","x":1058.8,"v":26.2},
      {"k":"0.2 V (at 70 s)","x":1059.8,"v":32.4},
      {"k":"0.2 V (at 70 s)","x":1060.8,"v":40.3},
      {"k":"0.2 V (at 70 s)","x":1061.8,"v":50.1},
      {"k":"0.2 V (at 70 s)","x":1062.8,"v":61.9},
      {"k":"0.2 V (at 70 s)","x":1063.8,"v":75.7},
      {"k":"0.2 V (at 70 s)","x":1064.8,"v":90.9},
      {"k":"0.2 V (at 70 s)","x":1065.8,"v":107.5},
      {"k":"0.2 V (at 70 s)","x":1066.8,"v":124.5},
      {"k":"0.2 V (at 70 s)","x":1067.8,"v":141.3},
      {"k":"0.2 V (at 70 s)","x":1068.8,"v":156.8},
      {"k":"0.2 V (at 70 s)","x":1069.8,"v":170.3},
      {"k":"0.2 V (at 70 s)","x":1070.8,"v":180.6},
      {"k":"0.2 V (at 70 s)","x":1071.8,"v":187.0},
      {"k":"0.2 V (at 70 s)","x":1072.8,"v":189.3},
      {"k":"0.2 V (at 70 s)","x":1073.8,"v":187.3},
      {"k":"0.2 V (at 70 s)","x":1074.8,"v":181.2},
      {"k":"0.2 V (at 70 s)","x":1075.8,"v":171.6},
      {"k":"0.2 V (at 70 s)","x":1076.8,"v":159.0},
      {"k":"0.2 V (at 70 s)","x":1077.8,"v":144.2},
      {"k":"0.2 V (at 70 s)","x":1078.8,"v":128.1},
      {"k":"0.2 V (at 70 s)","x":1079.8,"v":111.7},
      {"k":"0.2 V (at 70 s)","x":1080.8,"v":95.7},
      {"k":"0.2 V (at 70 s)","x":1081.8,"v":80.4},
      {"k":"0.2 V (at 70 s)","x":1082.8,"v":66.9},
      {"k":"0.2 V (at 70 s)","x":1083.8,"v":55.0},
      {"k":"0.2 V (at 70 s)","x":1084.8,"v":45.0},
      {"k":"0.2 V (at 70 s)","x":1085.8,"v":36.7},
      {"k":"0.2 V (at 70 s)","x":1086.8,"v":30.2},
      {"k":"0.2 V (at 70 s)","x":1088.8,"v":21.4},
      {"k":"0.2 V (at 70 s)","x":1090.8,"v":16.8},
      {"k":"0.2 V (at 70 s)","x":1092.8,"v":14.8},
      {"k":"0.2 V (at 70 s)","x":1095,"v":13.5},
      {"k":"0.2 V (at 70 s)","x":1098,"v":15.5},
      {"k":"0.2 V (at 70 s)","x":1101,"v":18.0},
      {"k":"0.2 V (at 70 s)","x":1104,"v":21.0},
      {"k":"0.2 V (at 70 s)","x":1107,"v":25.0},
      {"k":"0.2 V (at 70 s)","x":1109.2,"v":26.7},
      {"k":"0.2 V (at 70 s)","x":1111,"v":25.5},
      {"k":"0.2 V (at 70 s)","x":1114,"v":23.0},
      {"k":"0.2 V (at 70 s)","x":1117,"v":20.5},
      {"k":"0.2 V (at 70 s)","x":1120.5,"v":18.0}
    ],
    "ann": [
      {"x":998.3,"v":351.7,"m":"circle"},
      {"x":1022.7,"v":317.3,"m":"circle"},
      {"x":1073.1,"v":402.3,"m":"square"}
    ]
  },
  "vconcat": [
    {
      "title": {
        "text": "SAM in CH₃CN (Potential Step)",
        "anchor": "middle",
        "font": "Liberation Sans",
        "fontSize": 24,
        "fontWeight": "normal",
        "color": "black",
        "dx": 43,
        "offset": -2
      },
      "hconcat": [
        {
          "vconcat": [
            {
              "width": 361,
              "height": 212,
              "data": {"name": "ts"},
              "mark": {"type": "point", "filled": false, "strokeWidth": 2.2, "opacity": 1, "size": 130},
              "encoding": {
                "x": {"field": "t", "type": "quantitative",
                      "scale": {"domain": [-8.5, 359.5], "nice": false, "zero": false},
                      "axis": {"values": [0,25,50,75,100,125,150,175,200,225,250,275,300,325,350], "labels": false, "title": null,
                               "tickSize": {"condition": {"test": "datum.value % 50 === 0", "value": 6}, "value": 3}}},
                "y": {"field": "r", "type": "quantitative",
                      "scale": {"domain": [0.35, 1.46], "nice": false, "zero": false},
                      "axis": {"values": [0.4,0.5,0.6,0.7,0.8,0.9,1.0,1.1,1.2,1.3,1.4],
                               "labelExpr": "round(datum.value*10) % 2 === 0 ? format(datum.value, '.1f') : ''",
                               "tickSize": {"condition": {"test": "round(datum.value*10) % 2 === 0", "value": 6}, "value": 3},
                               "title": "Ratio of Raman bands", "titleX": -35, "titleBaseline": "bottom"}},
                "color": {"field": "p", "type": "nominal", "scale": {"domain": ["b","r"], "range": ["black","#ff0000"]}, "legend": null},
                "shape": {"datum": "Ratio 1000/1025 cm⁻¹", "type": "nominal", "scale": {"range": ["circle"]},
                          "legend": {"orient": "bottom-right", "title": null, "offset": 7, "padding": 4, "symbolOffset": 12,
                                     "labelOffset": 21, "labelFontSize": 15, "labelColor": "black",
                                     "symbolStrokeColor": "black", "symbolStrokeWidth": 2.2, "symbolSize": 120, "symbolFillColor": "transparent",
                                     "strokeColor": "#555555", "fillColor": "white", "cornerRadius": 3}}
              }
            },
            {
              "width": 361,
              "height": 211,
              "data": {"name": "ts"},
              "transform": [{"fold": ["s", "a"], "as": ["band", "d"]}],
              "mark": {"type": "point", "filled": false, "strokeWidth": 1.9, "opacity": 1, "size": 115},
              "encoding": {
                "x": {"field": "t", "type": "quantitative",
                      "scale": {"domain": [-8.5, 359.5], "nice": false, "zero": false},
                      "axis": {"values": [0,25,50,75,100,125,150,175,200,225,250,275,300,325,350],
                               "labelExpr": "datum.value % 50 === 0 ? datum.label : ''",
                               "tickSize": {"condition": {"test": "datum.value % 50 === 0", "value": 6}, "value": 3},
                               "labelPadding": 2, "title": "Time (s)", "titlePadding": 2}},
                "y": {"field": "d", "type": "quantitative",
                      "scale": {"domain": [-3.5, 1.5], "nice": false, "zero": false},
                      "axis": {"values": [-3,-2.5,-2,-1.5,-1,-0.5,0,0.5,1],
                               "labelExpr": "datum.value % 1 === 0 ? format(datum.value, 'd') : ''",
                               "tickSize": {"condition": {"test": "datum.value % 1 === 0", "value": 6}, "value": 3},
                               "title": "Δ[Raman shift] (cm⁻¹)", "titleX": -35, "titleBaseline": "bottom"}},
                "color": {"field": "p", "type": "nominal", "scale": {"domain": ["b","r"], "range": ["black","#ff0000"]}, "legend": null},
                "shape": {"field": "band", "type": "nominal", "scale": {"domain": ["s","a"], "range": ["square","triangle-up"]},
                          "legend": {"orient": "bottom-right", "title": null, "offset": 7, "padding": 4, "symbolOffset": 12,
                                     "labelOffset": 20, "labelFontSize": 15, "labelColor": "black", "rowPadding": 2,
                                     "labelExpr": "datum.value === 's' ? '1075 cm⁻¹' : '1575 cm⁻¹'",
                                     "symbolStrokeColor": "black", "symbolStrokeWidth": 2, "symbolSize": 120, "symbolFillColor": "transparent",
                                     "strokeColor": "#555555", "fillColor": "white", "cornerRadius": 3}}
              }
            }
          ],
          "spacing": 19,
          "bounds": "flush",
          "resolve": {"scale": {"color": "independent", "shape": "independent", "y": "independent"}, "legend": {"color": "independent", "shape": "independent"}}
        },
        {
          "width": 356,
          "height": 442,
          "layer": [
            {
              "data": {"name": "spec"},
              "mark": {"type": "line", "strokeWidth": 2.2},
              "encoding": {
                "x": {"field": "x", "type": "quantitative",
                      "scale": {"domain": [975.6, 1122.3], "nice": false, "zero": false},
                      "axis": {"values": [1000, 1050, 1100], "format": "d", "tickSize": 6, "labelPadding": 2, "title": "Raman shift (cm⁻¹)", "titlePadding": 2}},
                "y": {"field": "v", "type": "quantitative", "scale": {"domain": [0, 442], "nice": false, "zero": false}, "axis": null},
                "color": {"field": "k", "type": "nominal",
                          "scale": {"domain": ["0.2 V (at 0 s)", "1.2 V (at 30 s)", "0.2 V (at 70 s)"], "range": ["black", "#ff0000", "black"]},
                          "legend": {"orient": "top-left", "title": null, "offset": 8, "padding": 4, "symbolType": "M-1.7,0H1.7",
                                     "symbolSize": 324, "symbolStrokeWidth": 2.5, "symbolFillColor": "transparent", "symbolOffset": 2,
                                     "labelFontSize": 15, "labelColor": "black",
                                     "labelOffset": 19, "rowPadding": 2,
                                     "strokeColor": "#555555", "fillColor": "white", "cornerRadius": 3}}
              }
            },
            {
              "data": {"name": "ann"},
              "mark": {"type": "point", "filled": false, "strokeWidth": 2.2, "color": "black", "opacity": 1, "size": 130},
              "encoding": {
                "x": {"field": "x", "type": "quantitative"},
                "y": {"field": "v", "type": "quantitative"},
                "shape": {"field": "m", "type": "nominal", "scale": {"domain": ["circle", "square"], "range": ["circle", "square"]}, "legend": null}
              }
            }
          ]
        }
      ],
      "spacing": 6,
      "resolve": {"scale": {"x": "independent", "y": "independent", "color": "independent", "shape": "independent"}, "legend": {"color": "independent", "shape": "independent"}}
    }
  ],
  "resolve": {"scale": {"x": "independent", "y": "independent", "color": "independent", "shape": "independent"}, "legend": {"color": "independent", "shape": "independent"}}
}
